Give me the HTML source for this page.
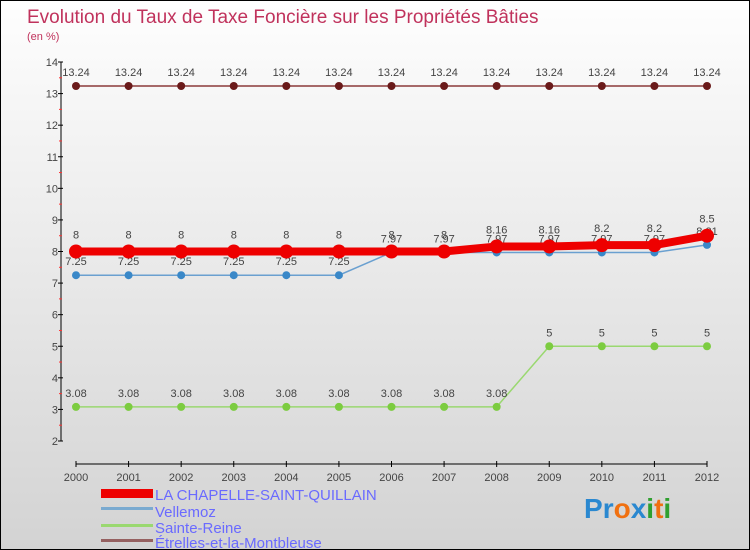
<!DOCTYPE html>
<html><head><meta charset="utf-8"><style>
body{margin:0;}
#c{width:750px;height:550px;position:relative;box-sizing:border-box;border:1px solid #000;background:linear-gradient(#fefefe,#d3d3d3);font-family:"Liberation Sans",sans-serif;overflow:hidden}
</style></head><body>
<div id="c">
<svg id="s" width="750" height="550" style="position:absolute;left:0;top:0">
<text x="26" y="22" font-size="19" fill="#c0325c">Evolution du Taux de Taxe Foncière sur les Propriétés Bâties</text>
<text x="26" y="39" font-size="11" fill="#c0325c">(en %)</text>
<g id="axes"></g><g id="series"></g>
<g font-size="15" fill="#6a6aff">
<rect x="100" y="488" width="52" height="9" fill="#e00"/>
<text x="154" y="499">LA CHAPELLE-SAINT-QUILLAIN</text>
<rect x="100" y="506" width="52" height="3" fill="#7aaad0"/>
<text x="154" y="516">Vellemoz</text>
<rect x="100" y="523" width="52" height="3" fill="#9ad870"/>
<text x="154" y="532">Sainte-Reine</text>
<rect x="100" y="538" width="52" height="3" fill="#956060"/>
<text x="154" y="547">Étrelles-et-la-Montbleuse</text>
</g>
<text x="583" y="517" font-size="28" font-weight="bold"><tspan fill="#2a88d0">P</tspan><tspan fill="#2a88d0">r</tspan><tspan fill="#f07010">o</tspan><tspan fill="#2a88d0">x</tspan><tspan fill="#30a030">i</tspan><tspan fill="#f07010">t</tspan><tspan fill="#30a030">i</tspan></text>
</svg>
</div>
<script>
const years=[2000,2001,2002,2003,2004,2005,2006,2007,2008,2009,2010,2011,2012];
const yTicks=[2,3,4,5,6,7,8,9,10,11,12,13,14];
const chapelle=[8,8,8,8,8,8,8,8,8.16,8.16,8.2,8.2,8.5];
const vellemoz=[7.25,7.25,7.25,7.25,7.25,7.25,7.97,7.97,7.97,7.97,7.97,7.97,8.21];
const sainteReine=[3.08,3.08,3.08,3.08,3.08,3.08,3.08,3.08,3.08,5,5,5,5];
const etrelles=[13.24,13.24,13.24,13.24,13.24,13.24,13.24,13.24,13.24,13.24,13.24,13.24,13.24];
const NS="http://www.w3.org/2000/svg";
const x=i=>75+i*(706-75)/(years.length-1);
const y=v=>440-(v-2)*(440-61)/12;
function mk(tag,attrs,parent){const e=document.createElementNS(NS,tag);for(const k in attrs)e.setAttribute(k,attrs[k]);parent.appendChild(e);return e;}
const ax=document.getElementById('axes');
const yl=mk('line',{x1:60,y1:61,x2:60,y2:440,stroke:'#000'},ax);


yTicks.forEach(t=>{
  mk('line',{x1:57,x2:62,y1:y(t),y2:y(t),stroke:'#000'},ax);
  if(t<14)mk('line',{x1:58,x2:61,y1:y(t+0.5),y2:y(t+0.5),stroke:'#f33'},ax);
  const tx=mk('text',{x:57,y:y(t)+4,'text-anchor':'end','font-size':11,fill:'#444'},ax);
  tx.textContent=t;
  
  
});
const xl=mk('line',{x1:75,y1:463,x2:706,y2:463,stroke:'#000'},ax);


years.forEach((yr,i)=>{
  mk('line',{x1:x(i),x2:x(i),y1:460,y2:466,stroke:'#000'},ax);
  const tx=mk('text',{x:x(i),y:480,'text-anchor':'middle','font-size':11,fill:'#444'},ax);
  tx.textContent=yr;
  
  
});
const sg=document.getElementById('series');
function series(name,data,color,w,r,dot,labDy){
  const g=mk('g',{},sg);
  
  
  const pl=mk('polyline',{points:data.map((v,i)=>x(i)+','+y(v)).join(' '),fill:'none',stroke:color,'stroke-width':w},g);
  
  
  data.forEach((v,i)=>{
    const c=mk('circle',{cx:x(i),cy:y(v),r:r,fill:dot},g);
    
    
    const t=mk('text',{x:x(i),y:y(v)+labDy,'text-anchor':'middle','font-size':11,fill:'#444'},g);
    t.textContent=v;
    
    
  });
}
series('etrelles',etrelles,'#8b3a3a',1.5,4,'#6a1a1a',-10);
series('sainte-reine',sainteReine,'#9ad870',1.5,4,'#7ccc40',-10);
series('vellemoz',vellemoz,'#6aa0d0',1.5,4,'#3a88c8',-10);
series('chapelle',chapelle,'#ee0000',8,7,'#ee0000',-13);
</script>
</body></html>
